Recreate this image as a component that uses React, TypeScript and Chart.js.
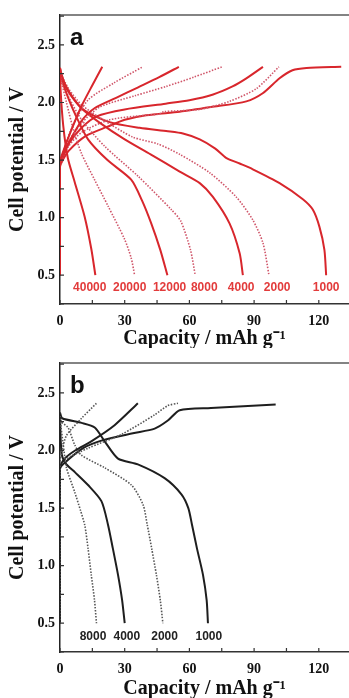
import React, { useEffect, useRef } from 'react';
import { Chart, registerables } from 'chart.js';
Chart.register(...registerables);

type P = [number, number];

// ---------- Panel a (red) : discharge curves ----------
const aDis40000: P[] = [[0, 2.3], [0.3, 2.1], [1.5, 1.8], [3.6, 1.52], [6.8, 1.31], [11.4, 1.01], [14.5, 0.73], [16.4, 0.5]];
const aDis20000: P[] = [[0, 2.3], [0.5, 2.2], [3, 2.0], [6, 1.78], [9.9, 1.56], [16, 1.33], [22.3, 1.1], [30, 0.81], [33, 0.65], [34.6, 0.5]];
const aDis12000: P[] = [[0, 2.3], [0.5, 2.22], [3, 2.08], [7, 1.9], [13, 1.68], [22, 1.5], [33, 1.33], [38, 1.15], [42.3, 0.95], [46.5, 0.72], [49.8, 0.5]];
const aDis8000: P[] = [[0, 2.3], [0.5, 2.22], [4, 2.05], [10, 1.85], [20.7, 1.62], [36.2, 1.36], [51.6, 1.07], [56, 0.97], [60.5, 0.72], [62.7, 0.5]];
const aDis4000: P[] = [[0, 2.3], [0.5, 2.24], [4, 2.1], [10, 1.95], [18, 1.83], [30, 1.68], [42, 1.55], [55.5, 1.4], [64.8, 1.3], [70.9, 1.18], [78.6, 0.95], [83.3, 0.69], [84.8, 0.5]];
const aDis2000: P[] = [[0, 2.3], [0.5, 2.25], [4, 2.12], [10, 1.98], [20, 1.85], [33.7, 1.7], [45.4, 1.64], [55.5, 1.55], [69.4, 1.39], [81.7, 1.18], [89.4, 0.98], [94.1, 0.78], [96.9, 0.5]];
const aDis1000: P[] = [[0, 2.3], [0.5, 2.26], [3, 2.12], [10.6, 1.94], [23, 1.83], [36.9, 1.78], [50, 1.75], [57, 1.73], [64.8, 1.68], [72, 1.6], [77, 1.52], [83.3, 1.47], [89.4, 1.42], [101.8, 1.3], [112.6, 1.16], [117.2, 1.07], [120.3, 0.92], [122.6, 0.72], [123.4, 0.5]];

// ---------- Panel a (red) : charge curves ----------
const aChg40000: P[] = [[0, 0.5], [0, 1.48], [1, 1.55], [5, 1.75], [10, 1.97], [15, 2.15], [19.6, 2.31]];
const aChg20000: P[] = [[0, 0.5], [0, 1.48], [1, 1.54], [5, 1.76], [12.9, 2.02], [25, 2.17], [38.4, 2.31]];
const aChg12000: P[] = [[0, 0.5], [0, 1.48], [1, 1.53], [4, 1.65], [10, 1.84], [16, 1.95], [26, 2.04], [36, 2.13], [46, 2.22], [55.1, 2.31]];
const aChg8000: P[] = [[0, 0.5], [0, 1.47], [1, 1.52], [4, 1.66], [10, 1.82], [18.4, 1.96], [35, 2.06], [49.3, 2.14], [62, 2.22], [75.2, 2.31]];
const aChg4000: P[] = [[0, 0.5], [0, 1.46], [1, 1.51], [4, 1.64], [10, 1.78], [17, 1.88], [30, 1.94], [49, 1.99], [60, 2.02], [71, 2.07], [80, 2.14], [86.4, 2.21], [94.1, 2.31]];
const aChg2000: P[] = [[0, 0.5], [0, 1.45], [1, 1.5], [4, 1.62], [10, 1.74], [23, 1.85], [40, 1.89], [46, 1.9], [48, 1.92], [64.8, 1.94], [78.6, 2.01], [91, 2.12], [101.5, 2.31]];
const aChg1000: P[] = [[0, 0.5], [0, 1.44], [1, 1.49], [4, 1.58], [12, 1.71], [22, 1.79], [30, 1.85], [40, 1.89], [55.5, 1.92], [70, 1.96], [86.4, 2.01], [94, 2.08], [101.8, 2.21], [107.8, 2.28], [114.3, 2.3], [130.4, 2.31]];

const aRates = ['40000', '20000', '12000', '8000', '4000', '2000', '1000'];
const aDotted = [false, true, false, true, false, true, false];
const aDischarge = [aDis40000, aDis20000, aDis12000, aDis8000, aDis4000, aDis2000, aDis1000];
const aCharge = [aChg40000, aChg20000, aChg12000, aChg8000, aChg4000, aChg2000, aChg1000];
const aLabelCaps = [13.8, 32.3, 50.8, 66.9, 84, 100.7, 123.4];
const aLabelV = 0.39;

// ---------- Panel b (black) ----------
const bDis8000: P[] = [[0, 2.3], [0.5, 2.2], [1.5, 2.05], [3, 1.85], [6.8, 1.64], [9.5, 1.48], [11.5, 1.35], [13, 1.15], [14.5, 0.92], [16, 0.7], [16.9, 0.5]];
const bDis4000: P[] = [[0, 2.32], [0.3, 2.1], [1, 1.95], [3, 1.88], [7, 1.81], [13, 1.7], [19.2, 1.56], [22.2, 1.36], [24.5, 1.15], [26.9, 0.92], [28.8, 0.7], [30, 0.5]];
const bDis2000: P[] = [[0, 2.32], [0.6, 2.25], [3.7, 2.2], [6.8, 2.05], [9.9, 1.96], [20.7, 1.85], [33.1, 1.7], [38.5, 1.53], [40.4, 1.36], [42.5, 1.15], [44.7, 0.92], [46.5, 0.7], [47.7, 0.5]];
const bDis1000: P[] = [[0, 2.33], [1, 2.28], [10, 2.24], [16.1, 2.2], [20.7, 2.08], [26.9, 1.93], [36.1, 1.88], [48.5, 1.76], [56.3, 1.62], [59.5, 1.5], [61.2, 1.355], [63.5, 1.15], [66.3, 0.92], [68, 0.7], [68.6, 0.5]];

const bChg8000: P[] = [[0, 0.5], [0, 1.9], [1, 2.0], [3, 2.13], [10, 2.28], [16.9, 2.41]];
const bChg4000: P[] = [[0, 0.5], [0, 1.85], [2.2, 1.93], [7, 2.0], [14.5, 2.08], [25.3, 2.22], [36.1, 2.41]];
const bChg2000: P[] = [[0, 0.5], [0, 1.86], [2.2, 1.92], [13, 2.02], [28.5, 2.14], [43.9, 2.31], [50, 2.39], [54.7, 2.41]];
const bChg1000: P[] = [[0, 0.5], [0, 1.84], [1.4, 1.88], [10.7, 2.02], [19.9, 2.09], [33.8, 2.15], [43.9, 2.19], [50, 2.26], [55.5, 2.35], [70, 2.37], [100, 2.4]];

const bRates = ['8000', '4000', '2000', '1000'];
const bDotted = [true, false, true, false];
const bDischarge = [bDis8000, bDis4000, bDis2000, bDis1000];
const bCharge = [bChg8000, bChg4000, bChg2000, bChg1000];
const bLabelCaps = [15.3, 31, 48.5, 69];
const bLabelV = 0.38;

const xMin = 0, xMax = 134, xStep = 15;
const yMin = 0.25, yMax = 2.76, yStep = 0.25;

const SERIF = "'Liberation Serif', 'Times New Roman', serif";
const SANS = "'Liberation Sans', Arial, sans-serif";

interface PanelCfg {
  letter: string;
  rates: string[];
  dotted: boolean[];
  discharge: P[][];
  charge: P[][];
  labelCaps: number[];
  labelV: number;
  solidColor: string;
  dotColor: string;
  labelColor: string;
  height: number;
}

const panelA: PanelCfg = {
  letter: 'a', rates: aRates, dotted: aDotted, discharge: aDischarge, charge: aCharge,
  labelCaps: aLabelCaps, labelV: aLabelV,
  solidColor: '#d8262c', dotColor: '#d0566a', labelColor: '#e23b3b', height: 348,
};
const panelB: PanelCfg = {
  letter: 'b', rates: bRates, dotted: bDotted, discharge: bDischarge, charge: bCharge,
  labelCaps: bLabelCaps, labelV: bLabelV,
  solidColor: '#1e1e1e', dotColor: '#555555', labelColor: '#222222', height: 350,
};

function Panel({ cfg, top }: { cfg: PanelCfg; top: number }) {
  const ref = useRef<HTMLCanvasElement | null>(null);
  useEffect(() => {
    if (!ref.current) return;
    const datasets: any[] = [];
    cfg.rates.forEach((r, i) => {
      const dotted = cfg.dotted[i];
      const style = {
        showLine: true,
        pointRadius: 0,
        borderColor: dotted ? cfg.dotColor : cfg.solidColor,
        borderWidth: dotted ? 1.6 : 2,
        borderDash: dotted ? [1.5, 1.5] : [],
        tension: 0.25,
        fill: false,
      };
      datasets.push({ label: r + ' discharge', data: cfg.discharge[i].map(([x, y]) => ({ x, y })), ...style });
      datasets.push({ label: r + ' charge', data: cfg.charge[i].map(([x, y]) => ({ x, y })), ...style });
    });

    const frame = {
      id: 'frame',
      afterDraw(chart: any) {
        const { ctx, chartArea, scales } = chart;
        const xs = scales.x, ys = scales.y;
        ctx.save();
        // top border
        ctx.strokeStyle = '#5a5a5a';
        ctx.lineWidth = 1.5;
        ctx.beginPath();
        ctx.moveTo(chartArea.left, chartArea.top);
        ctx.lineTo(chartArea.right, chartArea.top);
        ctx.stroke();
        // inward ticks
        ctx.strokeStyle = '#333';
        ctx.lineWidth = 1.2;
        ctx.beginPath();
        xs.ticks.forEach((t: any) => {
          const px = xs.getPixelForValue(t.value);
          ctx.moveTo(px, chartArea.bottom);
          ctx.lineTo(px, chartArea.bottom - 4);
        });
        ys.ticks.forEach((t: any) => {
          const py = ys.getPixelForValue(t.value);
          ctx.moveTo(chartArea.left, py);
          ctx.lineTo(chartArea.left + 4, py);
        });
        ctx.stroke();
        // panel letter
        ctx.fillStyle = '#111';
        ctx.font = `bold 24px ${SANS}`;
        ctx.textAlign = 'left';
        ctx.textBaseline = 'alphabetic';
        ctx.fillText(cfg.letter, chartArea.left + 10, ys.getPixelForValue(2.5));
        // rate labels
        ctx.fillStyle = cfg.labelColor;
        ctx.font = `bold 12px ${SANS}`;
        ctx.textAlign = 'center';
        ctx.textBaseline = 'middle';
        cfg.rates.forEach((r, i) => {
          ctx.fillText(r, xs.getPixelForValue(cfg.labelCaps[i]), ys.getPixelForValue(cfg.labelV));
        });
        ctx.restore();
      },
    };

    const chart = new Chart(ref.current, {
      type: 'scatter',
      data: { datasets },
      options: {
        animation: false,
        responsive: false,
        maintainAspectRatio: false,
        layout: { padding: { left: 0, top: 15, right: 0, bottom: 0 } },
        plugins: { legend: { display: false }, tooltip: { enabled: false } },
        scales: {
          x: {
            type: 'linear',
            min: xMin, max: xMax,
            grid: { display: false, drawTicks: false },
            border: { display: true, color: '#333', width: 1.5 },
            ticks: {
              stepSize: xStep,
              includeBounds: false,
              padding: 9,
              color: '#111',
              font: { family: SERIF, weight: 'bold', size: 14 },
              callback: (v: any) => (Math.abs(v % 30) < 1e-6 ? String(v) : ''),
              maxRotation: 0,
              autoSkip: false,
            },
            title: {
              display: true,
              text: 'Capacity / mAh g⁻¹',
              color: '#111',
              font: { family: SERIF, weight: 'bold', size: 20 },
              padding: { top: 0, bottom: -3 },
            },
            afterFit: (s: any) => { s.height = cfg.height - 304; },
          },
          y: {
            type: 'linear',
            min: yMin, max: yMax,
            grid: { display: false, drawTicks: false },
            border: { display: true, color: '#222', width: 1.5 },
            ticks: {
              stepSize: yStep,
              includeBounds: false,
              padding: 5,
              color: '#111',
              font: { family: SERIF, weight: 'bold', size: 14 },
              callback: (v: any) => (Math.abs((v * 2) % 1) < 1e-6 && v >= 0.5 ? Number(v).toFixed(1) : ''),
              autoSkip: false,
            },
            title: {
              display: true,
              text: 'Cell potential / V',
              color: '#111',
              font: { family: SERIF, weight: 'bold', size: 20 },
              padding: { top: 6, bottom: 0 },
            },
            afterFit: (s: any) => { s.width = 60; },
          },
        },
      } as any,
      plugins: [frame],
    });
    return () => chart.destroy();
  }, [cfg]);
  return (
    <div style={{ position: 'absolute', left: 0, top, width: 349, height: cfg.height }}>
      <canvas ref={ref} width={349} height={cfg.height} style={{ width: 349, height: cfg.height, display: 'block' }} />
    </div>
  );
}

export default function App() {
  return (
    <div style={{ position: 'absolute', left: 0, top: 0, width: 349, height: 698, background: '#fff', overflow: 'hidden' }}>
      <Panel cfg={panelA} top={0} />
      <Panel cfg={panelB} top={348} />
    </div>
  );
}
